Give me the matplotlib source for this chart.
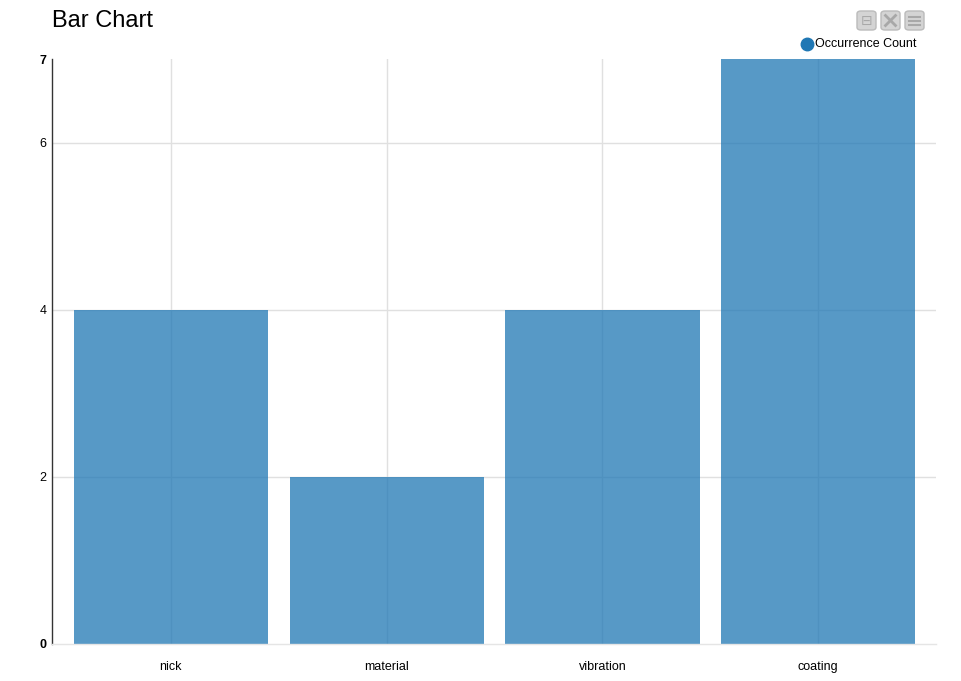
import matplotlib.pyplot as plt
from matplotlib.patches import FancyBboxPatch
from matplotlib.lines import Line2D

plt.rcParams['font.family'] = ['Liberation Sans', 'DejaVu Sans']

categories = ['nick', 'material', 'vibration', 'coating']
counts = [4, 2, 4, 7]
y_ticks = [0, 2, 4, 6, 7]
series_name = 'Occurrence Count'

W, H = 961, 681
fig = plt.figure(figsize=(W / 100, H / 100), dpi=100)
ax = fig.add_axes([52 / W, (H - 644) / H, (936 - 52) / W, (644 - 59) / H])

x = list(range(len(categories)))

# grid lines sit under the semi-transparent bars
for xi in x:
    ax.axvline(xi, color='#e0e0e0', lw=1, zorder=1)
for yt in y_ticks[1:-1]:
    ax.axhline(yt, color='#e0e0e0', lw=1, zorder=1)

ax.bar(x, counts, width=0.9, color='#1f77b4', alpha=0.75, edgecolor='none', zorder=2)

ax.set_xlim(-0.551, 3.546)
ax.set_ylim(0, 7)

ax.set_xticks(x)
ax.set_xticklabels(categories, fontsize=9)
ax.set_yticks(y_ticks)
ax.set_yticklabels([str(t) for t in y_ticks], fontsize=9)
for lbl in ax.get_yticklabels():
    if lbl.get_text() in ('0', '7'):
        lbl.set_fontweight('bold')
ax.tick_params(axis='both', length=0, colors='black')
ax.tick_params(axis='x', pad=12)
ax.tick_params(axis='y', pad=4)

for side in ('top', 'right'):
    ax.spines[side].set_visible(False)
ax.spines['left'].set_color('#333333')
ax.spines['left'].set_linewidth(1)
ax.spines['bottom'].set_color('#e5e5e5')
ax.spines['bottom'].set_linewidth(1)

fig.text(52 / W, 1 - 21 / H, 'Bar Chart', fontsize=17, va='center', ha='left')

# legend
fig.add_artist(Line2D([807 / W], [1 - 44 / H], marker='o', markersize=9,
                      color='#1f77b4', transform=fig.transFigure))
fig.text(815 / W, 1 - 44 / H, series_name, fontsize=9, va='center', ha='left')

# toolbar buttons
for bx in (857, 881, 905):
    fig.add_artist(FancyBboxPatch((bx / W, 1 - 30 / H), 19 / W, 19 / H,
                                  boxstyle='round,pad=0,rounding_size=0.004',
                                  transform=fig.transFigure,
                                  facecolor='#d4d4d4', edgecolor='#bbbbbb', lw=1))
fig.text(866.5 / W, 1 - 20.5 / H, '⊟', fontsize=10, color='#a8a8a8', ha='center',
         va='center', family='DejaVu Sans')
# expand icon
cx, cy = 890.5, 20.5
for dx, dy in ((1, 1), (1, -1)):
    fig.add_artist(Line2D([(cx - 5 * dx) / W, (cx + 5 * dx) / W],
                          [1 - (cy - 5 * dy) / H, 1 - (cy + 5 * dy) / H],
                          color='#a8a8a8', lw=2, transform=fig.transFigure))
# menu icon
for dy in (-4, 0, 4):
    fig.add_artist(Line2D([909 / W, 920 / W], [1 - (20.5 + dy) / H] * 2,
                          color='#a8a8a8', lw=1.5, transform=fig.transFigure))

plt.savefig('out.png', dpi=100)
